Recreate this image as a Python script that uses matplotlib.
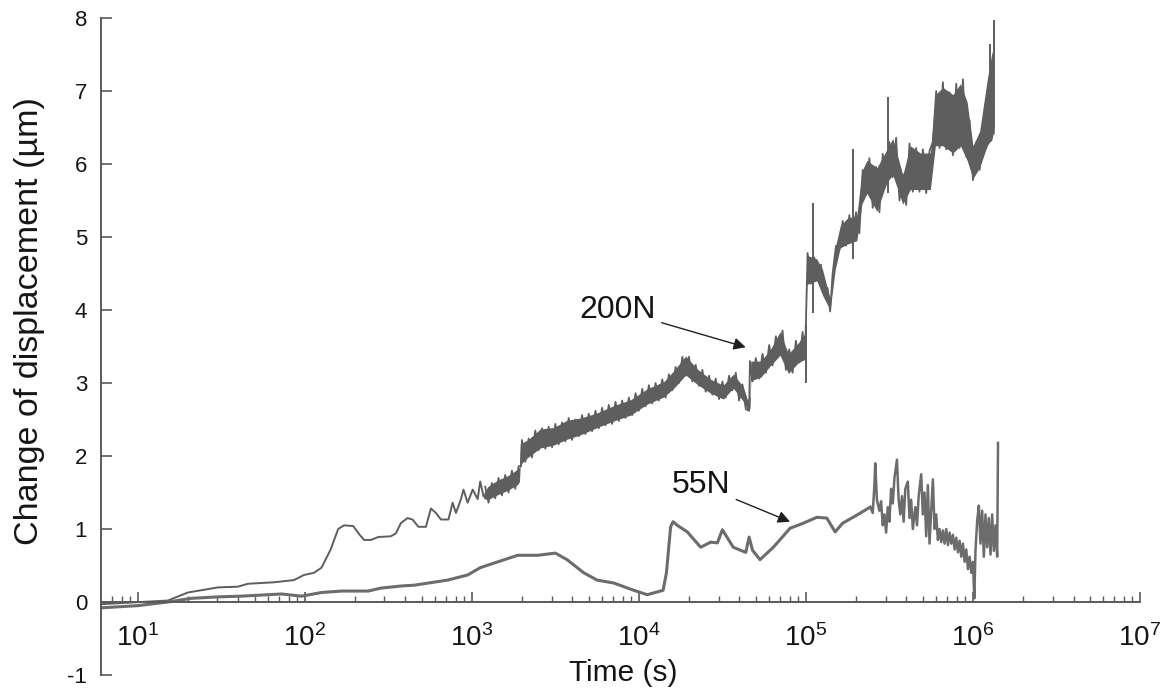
import numpy as np
import matplotlib

matplotlib.use("Agg")
import matplotlib.pyplot as plt
from matplotlib.ticker import LogLocator, NullFormatter

plt.rcParams["font.family"] = ["Liberation Sans", "DejaVu Sans"]
plt.rcParams["mathtext.fontset"] = "custom"
plt.rcParams["mathtext.rm"] = "Liberation Sans"
plt.rcParams["mathtext.it"] = "Liberation Sans:italic"
plt.rcParams["mathtext.bf"] = "Liberation Sans:bold"
plt.rcParams["axes.unicode_minus"] = False

# time is kept as log10(t) [s], displacement in um

# --- 200N: smooth early part ---
log_t_200 = [0.78, 1.18, 1.30, 1.48, 1.60, 1.66, 1.815, 1.935, 1.995, 2.055,
             2.10, 2.155, 2.20, 2.235, 2.29, 2.325, 2.355, 2.395, 2.44, 2.515,
             2.545, 2.575, 2.615, 2.645, 2.68, 2.725, 2.755, 2.785, 2.815, 2.86,
             2.885, 2.905, 2.935, 2.95, 2.975, 3.005, 3.035, 3.05, 3.07]
disp_200 = [-0.03, 0.02, 0.13, 0.20, 0.21, 0.25, 0.27, 0.30, 0.37, 0.40,
            0.47, 0.72, 1.00, 1.05, 1.04, 0.93, 0.85, 0.85, 0.89, 0.90,
            0.94, 1.08, 1.15, 1.13, 1.03, 1.03, 1.28, 1.22, 1.13, 1.13,
            1.36, 1.22, 1.41, 1.54, 1.36, 1.54, 1.41, 1.65, 1.45]

# --- 200N: noisy part, lower / upper edge of the dense band ---
band_log_t_200 = [3.07, 3.095, 3.155, 3.215, 3.275, 3.285, 3.29, 3.335, 3.41, 3.49,
                  3.57, 3.65, 3.75, 3.85, 3.95, 4.05, 4.15, 4.21, 4.28, 4.35,
                  4.43, 4.505, 4.565, 4.625, 4.65, 4.665, 4.67, 4.73, 4.785, 4.845,
                  4.895, 4.955, 5.0, 5.005, 5.065, 5.10, 5.145, 5.175, 5.205, 5.245,
                  5.305, 5.335, 5.365, 5.425, 5.485, 5.52, 5.58, 5.625, 5.685, 5.745,
                  5.775, 5.82, 5.88, 5.925, 5.965, 6.0, 6.04, 6.085, 6.115, 6.125]
band_lo_200 = [1.42, 1.40, 1.47, 1.53, 1.61, 1.65, 1.88, 1.98, 2.11, 2.15,
               2.23, 2.29, 2.39, 2.48, 2.56, 2.71, 2.81, 2.93, 3.11, 2.98,
               2.86, 2.78, 2.93, 2.75, 2.63, 2.65, 3.03, 3.08, 3.23, 3.38,
               3.13, 3.28, 3.33, 4.35, 4.40, 4.20, 4.00, 4.55, 4.85, 4.90,
               4.95, 5.45, 5.60, 5.35, 5.75, 5.85, 5.45, 5.65, 5.65, 5.65,
               6.25, 6.25, 6.15, 6.25, 6.05, 5.80, 5.95, 6.25, 6.35, 6.45]
band_hi_200 = [1.48, 1.58, 1.67, 1.73, 1.82, 1.85, 2.17, 2.22, 2.37, 2.39,
               2.49, 2.52, 2.59, 2.69, 2.77, 2.92, 3.02, 3.17, 3.37, 3.19,
               3.05, 2.97, 3.12, 2.95, 2.77, 2.82, 3.30, 3.30, 3.45, 3.70,
               3.40, 3.55, 3.70, 4.75, 4.70, 4.55, 4.15, 4.85, 5.15, 5.25,
               5.30, 5.90, 6.05, 5.95, 6.20, 6.35, 5.85, 6.25, 6.15, 6.15,
               6.95, 7.05, 6.95, 7.10, 6.85, 6.25, 6.45, 7.15, 7.55, 7.25]

# --- 200N: individual readings inside the band (gives the jagged texture) ---
zig_200 = [(3.08, 1.58), (3.10, 1.36), (3.12, 1.63), (3.14, 1.42), (3.16, 1.70),
           (3.18, 1.46), (3.20, 1.74), (3.22, 1.50), (3.24, 1.80), (3.26, 1.55),
           (3.28, 1.86), (3.295, 1.86), (3.30, 2.22), (3.32, 1.92), (3.34, 2.24),
           (3.36, 1.98), (3.38, 2.35), (3.40, 2.08), (3.42, 2.38), (3.44, 2.10),
           (3.46, 2.40), (3.48, 2.12), (3.50, 2.44), (3.52, 2.16), (3.54, 2.46),
           (3.56, 2.20), (3.58, 2.52), (3.60, 2.22), (3.62, 2.50), (3.64, 2.27),
           (3.66, 2.56), (3.68, 2.30), (3.70, 2.58), (3.72, 2.34), (3.74, 2.62),
           (3.76, 2.38), (3.78, 2.66), (3.80, 2.42), (3.82, 2.70), (3.84, 2.44),
           (3.86, 2.74), (3.88, 2.48), (3.90, 2.76), (3.92, 2.52), (3.94, 2.80),
           (3.96, 2.56), (3.98, 2.86), (4.00, 2.62), (4.02, 2.92), (4.04, 2.68),
           (4.06, 2.97), (4.08, 2.72), (4.10, 3.00), (4.12, 2.76), (4.14, 3.05),
           (4.16, 2.80), (4.18, 3.12), (4.20, 2.90), (4.22, 3.22), (4.24, 3.00),
           (4.26, 3.36), (4.28, 3.10), (4.30, 3.36), (4.32, 3.02), (4.34, 3.25),
           (4.36, 2.96), (4.38, 3.18), (4.40, 2.88), (4.42, 3.10), (4.44, 2.84),
           (4.46, 3.06), (4.48, 2.78), (4.50, 3.02), (4.52, 2.80), (4.54, 3.10),
           (4.56, 2.90), (4.58, 3.14), (4.60, 2.76), (4.62, 2.98), (4.64, 2.64),
           (4.66, 2.62), (4.665, 3.30), (4.68, 3.02), (4.70, 3.34), (4.72, 3.06),
           (4.74, 3.40), (4.76, 3.14), (4.78, 3.52), (4.80, 3.24), (4.82, 3.64),
           (4.84, 3.40), (4.86, 3.72), (4.88, 3.18), (4.90, 3.46), (4.92, 3.14),
           (4.94, 3.58), (4.96, 3.28), (4.98, 3.70), (4.995, 3.36), (5.01, 4.78),
           (5.03, 4.36), (5.05, 4.72), (5.07, 4.40), (5.09, 4.62), (5.11, 4.22),
           (5.13, 4.30), (5.145, 3.98), (5.16, 4.50), (5.18, 4.88), (5.20, 4.82),
           (5.22, 5.22), (5.24, 4.88), (5.26, 5.30), (5.28, 4.92), (5.30, 5.34),
           (5.32, 5.05), (5.34, 5.92), (5.36, 5.58), (5.38, 6.08), (5.40, 5.40),
           (5.42, 5.96), (5.44, 5.34), (5.46, 6.14), (5.48, 5.72), (5.50, 6.30),
           (5.52, 5.82), (5.54, 6.36), (5.56, 5.50), (5.58, 5.86), (5.60, 5.44),
           (5.62, 6.28), (5.64, 5.62), (5.66, 6.22), (5.68, 5.62), (5.70, 6.20),
           (5.72, 5.60), (5.74, 6.18), (5.76, 6.30), (5.78, 7.00), (5.80, 6.22),
           (5.82, 7.12), (5.84, 6.20), (5.86, 6.98), (5.88, 6.12), (5.90, 7.10),
           (5.92, 6.22), (5.94, 7.16), (5.96, 6.10), (5.98, 6.60), (6.00, 5.78),
           (6.02, 6.30), (6.04, 5.92), (6.06, 6.50), (6.08, 6.22), (6.10, 7.20),
           (6.11, 6.32), (6.12, 7.30), (6.125, 6.42)]

spike_log_t_200 = [5.0, 5.04, 5.28, 5.49, 6.10, 6.125]
spike_lo_200 = [3.00, 3.96, 4.70, 5.60, 6.30, 6.50]
spike_hi_200 = [3.80, 5.47, 6.20, 6.92, 7.65, 7.97]

# --- 55N: smoother part ---
log_t_55 = [0.78, 1.0, 1.18, 1.32, 1.48, 1.62, 1.86, 1.98, 2.10, 2.22,
            2.38, 2.455, 2.58, 2.655, 2.855, 2.975, 3.05, 3.155, 3.275, 3.395,
            3.5, 3.57, 3.67, 3.75, 3.85, 3.97, 4.05, 4.145, 4.165, 4.19,
            4.205, 4.23, 4.29, 4.37, 4.43, 4.47, 4.50, 4.565, 4.64, 4.66,
            4.68, 4.725, 4.805, 4.905, 4.985, 5.065, 5.125, 5.175, 5.22, 5.305,
            5.385]
disp_55 = [-0.08, -0.05, 0.00, 0.05, 0.07, 0.08, 0.11, 0.08, 0.13, 0.15,
           0.15, 0.19, 0.22, 0.23, 0.30, 0.37, 0.47, 0.55, 0.64, 0.64,
           0.67, 0.58, 0.40, 0.30, 0.26, 0.16, 0.10, 0.16, 0.40, 1.03,
           1.10, 1.05, 0.96, 0.75, 0.82, 0.81, 0.99, 0.75, 0.68, 0.89,
           0.71, 0.58, 0.75, 1.01, 1.08, 1.16, 1.15, 0.96, 1.08, 1.19,
           1.30]

# --- 55N: spiky end part ---
zig_55 = [(5.385, 1.30), (5.40, 1.22), (5.41, 1.60), (5.415, 1.90), (5.425, 1.40),
          (5.44, 1.25), (5.45, 1.38), (5.46, 1.05), (5.47, 1.20), (5.48, 0.95),
          (5.49, 1.30), (5.50, 1.10), (5.51, 1.55), (5.52, 1.35), (5.53, 1.70),
          (5.545, 1.95), (5.555, 1.40), (5.565, 1.20), (5.575, 1.45), (5.585, 1.10),
          (5.595, 1.55), (5.61, 1.65), (5.62, 1.15), (5.63, 1.40), (5.64, 1.00),
          (5.655, 1.30), (5.665, 1.05), (5.675, 1.45), (5.69, 1.75), (5.70, 1.20),
          (5.71, 1.50), (5.72, 0.90), (5.73, 1.60), (5.74, 0.80), (5.75, 1.25),
          (5.76, 1.68), (5.77, 1.00), (5.78, 1.20), (5.79, 0.85), (5.80, 1.00),
          (5.81, 0.82), (5.82, 0.98), (5.83, 0.80), (5.84, 1.00), (5.85, 0.78),
          (5.86, 0.95), (5.87, 0.80), (5.88, 0.92), (5.89, 0.72), (5.90, 0.88),
          (5.91, 0.68), (5.92, 0.84), (5.93, 0.62), (5.94, 0.80), (5.95, 0.55),
          (5.96, 0.72), (5.97, 0.45), (5.98, 0.62), (5.99, 0.40), (6.00, 0.55),
          (6.008, 0.05), (6.015, 0.70), (6.025, 1.10), (6.035, 1.32), (6.045, 0.80),
          (6.055, 1.25), (6.065, 0.62), (6.075, 1.20), (6.085, 0.75), (6.095, 1.15),
          (6.105, 0.65), (6.115, 1.20), (6.125, 0.70), (6.135, 1.05), (6.145, 0.62),
          (6.15, 2.18)]

major_ticks = [1e1, 1e2, 1e3, 1e4, 1e5, 1e6, 1e7]

c200 = "#5e5e5e"
c55 = "#6c6c6c"
axis_col = "#5a5a5a"
text_col = "#151515"

fig = plt.figure(figsize=(11.72, 6.96), dpi=100)
ax = fig.add_axes([101 / 1172, 1 - 675 / 696, (1140 - 101) / 1172, (675 - 18) / 696])
ax.set_xscale("log")

zt200, zy200 = zip(*zig_200)
zt55, zy55 = zip(*zig_55)

ax.plot(10 ** np.array(log_t_200), disp_200, color=c200, lw=1.4)
ax.fill_between(10 ** np.array(band_log_t_200), band_lo_200, band_hi_200,
                color=c200, lw=0)
ax.plot(10 ** np.array(zt200), zy200, color=c200, lw=1.3)
ax.vlines(10 ** np.array(spike_log_t_200), spike_lo_200, spike_hi_200,
          color=c200, lw=1.4)

ax.plot(10 ** np.array(log_t_55), disp_55, color=c55, lw=2.2)
ax.plot(10 ** np.array(zt55), zy55, color=c55, lw=1.8)

ax.set_xlim(10 ** 0.78, 1e7)
ax.set_ylim(-1, 8)
ax.set_yticks(range(-1, 9))
ax.set_xticks(major_ticks)
ax.xaxis.set_minor_locator(LogLocator(base=10, subs=np.arange(2, 10), numticks=20))
ax.xaxis.set_minor_formatter(NullFormatter())

ax.spines["top"].set_visible(False)
ax.spines["right"].set_visible(False)
ax.spines["bottom"].set_position(("data", 0))
for s in ("left", "bottom"):
    ax.spines[s].set_color(axis_col)
    ax.spines[s].set_linewidth(1.4)

ax.tick_params(axis="x", which="major", direction="in", length=7, width=1.2,
               color=axis_col, labelcolor=text_col, labelsize=20, pad=16)
ax.tick_params(axis="x", which="minor", direction="in", length=4, width=1.0,
               color=axis_col)
ax.tick_params(axis="y", direction="in", length=8, width=1.2, color=axis_col,
               labelcolor=text_col, labelsize=16, pad=10)

fig.text(30 / 1172, 1 - 321 / 696, "Change of displacement (µm)", rotation=90,
         ha="center", va="center", fontsize=24.5, color=text_col)
fig.text(623 / 1172, 1 - 673 / 696, "Time (s)", ha="center", va="center",
         fontsize=21.5, color=text_col)

arrow = dict(arrowstyle="-|>", color="#202020", lw=1.0, mutation_scale=18, shrinkA=2, shrinkB=0)
ax.annotate("200N", xy=(10 ** 4.64, 3.49), xytext=(10 ** 3.875, 4.0),
            fontsize=23, ha="center", va="center", color=text_col, arrowprops=arrow)
ax.annotate("55N", xy=(10 ** 4.905, 1.1), xytext=(10 ** 4.375, 1.6),
            fontsize=23, ha="center", va="center", color=text_col, arrowprops=arrow)

fig.savefig("out.png", dpi=100)
